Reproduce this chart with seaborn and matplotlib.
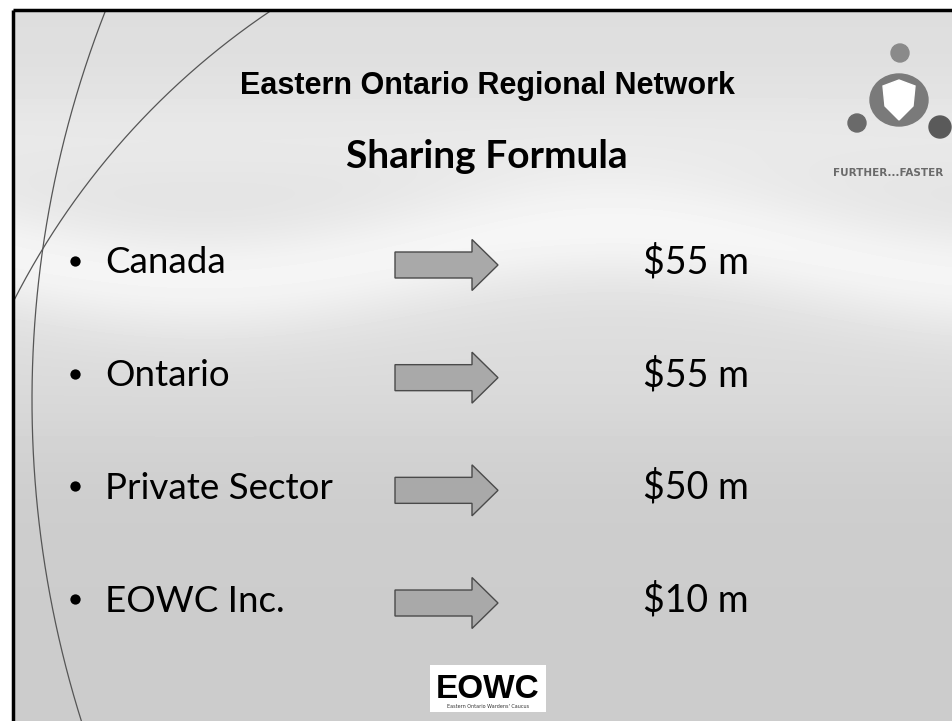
import numpy as np
import pandas as pd
import matplotlib
matplotlib.use("Agg")
import matplotlib.pyplot as plt
from matplotlib import patches
import seaborn as sns

# ---------------- data ----------------
title = "Eastern Ontario Regional Network"
subtitle = "Sharing Formula"
partners = ["Canada", "Ontario", "Private Sector", "EOWC Inc."]
amounts_m = [55, 55, 50, 10]
value_labels = [f"${v} m" for v in amounts_m]
tagline = "FURTHER...FASTER"
footer_logo = "EOWC"
footer_caption = "Eastern Ontario Wardens' Caucus"

# ---------------- style ----------------
sns.set_theme(style="white")
plt.rcParams['font.family'] = ['Lato', 'DejaVu Sans']
NARROW = ['Liberation Sans Narrow', 'Liberation Sans', 'DejaVu Sans']

W, H = 953, 721
fig = plt.figure(figsize=(9.53, 7.21), dpi=100)
fig.patch.set_facecolor('white')

# background / decoration axes in pixel coordinates
bg = fig.add_axes([0, 0, 1, 1])
bg.set_xlim(0, W)
bg.set_ylim(H, 0)
bg.set_axis_off()

yy, xx = np.mgrid[0:H, 0:W].astype(float)
band = 255 + 25 * np.sin(xx / 130.0)
tone = (0.80
        + 0.07 / (1 + np.exp((yy - 430) / 35.0))
        + 0.09 * np.exp(-((yy - band) / 55.0) ** 2)
        + 0.04 * np.exp(-((yy - 140) / 60.0) ** 2))
tone = np.clip(tone, 0, 1)
tone[(xx < 13) | (yy < 10)] = 1.0
bg.imshow(tone, cmap='gray', vmin=0, vmax=1, extent=[0, W, H, 0],
          interpolation='bilinear', zorder=0)

# decorative arcs on the left
y1 = np.linspace(10, 721, 300)
cx1, cy1, r1 = 1100, 400, 1068
x1 = cx1 - np.sqrt(r1 ** 2 - (y1 - cy1) ** 2)
m1 = x1 >= 13
bg.plot(x1[m1], y1[m1], color='#555555', lw=0.9, zorder=1)
y2 = np.linspace(10, 400, 300)
cx2, cy2, r2 = 700, 650, 770
x2 = cx2 - np.sqrt(np.clip(r2 ** 2 - (cy2 - y2) ** 2, 0, None))
m2 = x2 >= 13
bg.plot(x2[m2], y2[m2], color='#555555', lw=0.9, zorder=1)

# slide frame (top and left visible)
bg.plot([13, 13], [10, H], color='black', lw=2.5, zorder=2, solid_capstyle='butt')
bg.plot([13, W], [10, 10], color='black', lw=2.5, zorder=2, solid_capstyle='butt')

# top-right logo
bg.add_patch(patches.Circle((900, 53), 9, color='#8a8a8a', zorder=3))
bg.add_patch(patches.Ellipse((899, 100), 58, 52, color='#7a7a7a', zorder=3))
bg.add_patch(patches.Polygon([(883, 86), (899, 80), (915, 86), (913, 106),
                              (899, 120), (885, 106)], closed=True,
                             color='white', zorder=4))
bg.add_patch(patches.Circle((857, 123), 9, color='#6a6a6a', zorder=3))
bg.add_patch(patches.Circle((940, 127), 11, color='#5a5a5a', zorder=3))
bg.text(833, 176, tagline, fontsize=7.5, fontweight='bold', color='#6a6a6a',
        family=['DejaVu Sans'], ha='left', va='baseline', zorder=5)

# footer logo
bg.add_patch(patches.Rectangle((430, 665), 116, 47, facecolor='white',
                               edgecolor='none', zorder=3))
bg.text(488, 698, footer_logo, fontsize=24, fontweight='bold', color='black',
        family=NARROW, ha='center', va='baseline', zorder=4)
bg.text(488, 708, footer_caption, fontsize=3.5, color='#333333',
        family=['DejaVu Sans'], ha='center', va='baseline', zorder=4)

# titles
bg.text(487, 94, title, fontsize=22, fontweight='bold', color='black',
        family=NARROW, ha='center', va='baseline', zorder=5)
bg.text(487, 168, subtitle, fontsize=28, fontweight='bold', color='black',
        ha='center', va='baseline', zorder=5)

# ---------------- data axes (categorical rows) ----------------
ax = fig.add_axes([0, 0, 1, 1])
ax.patch.set_alpha(0)
df = pd.DataFrame({"partner": partners, "amount": amounts_m})
BULLET_X = 75
sns.scatterplot(x=np.full(len(df), BULLET_X), y=df["partner"], ax=ax,
                color='black', s=55, linewidth=0, legend=False, zorder=5)
ROW0, STEP = 261.0, 112.67
ax.set_xlim(0, W)
ax.set_ylim((H - ROW0) / STEP, -ROW0 / STEP)
ax.set_axis_off()

base_off = 12.5 / STEP
for i, (p, lab) in enumerate(zip(df["partner"], value_labels)):
    ax.text(105, i + base_off, p, fontsize=26.5, color='black',
            ha='left', va='baseline', zorder=6)
    ax.add_patch(patches.FancyArrow(395, i + 4 / STEP, 103, 0,
                                    width=26 / STEP, head_width=51 / STEP,
                                    head_length=26, length_includes_head=True,
                                    facecolor='#a9a9a9', edgecolor='#4a4a4a',
                                    lw=1.0, zorder=5))
    ax.text(643, i + base_off, lab, fontsize=27, color='black',
            ha='left', va='baseline', zorder=6)

fig.savefig("out.png", dpi=100)
